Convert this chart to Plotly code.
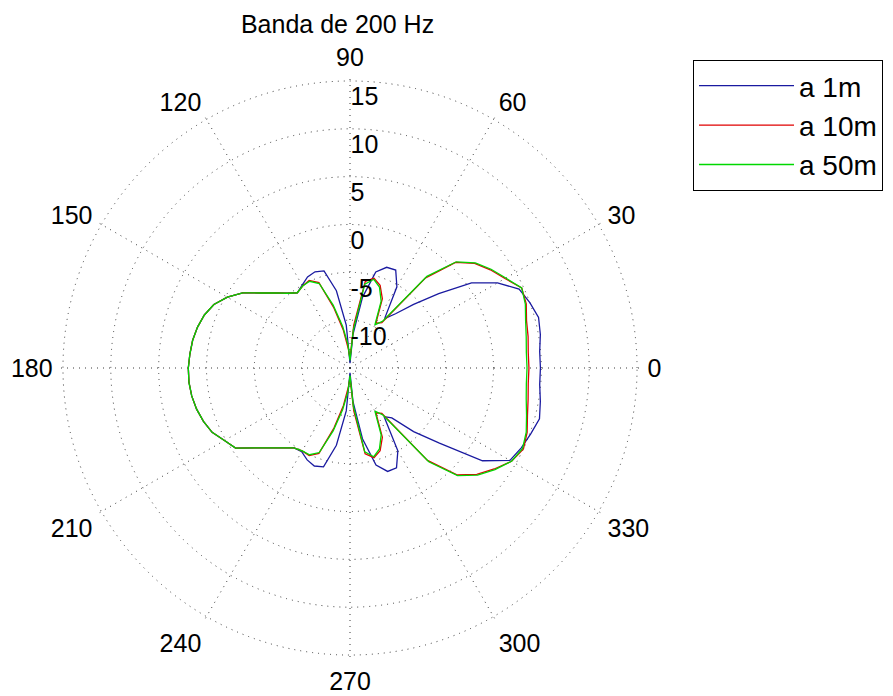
import plotly.graph_objects as go

# Angles (degrees) and levels (dB)
theta_deg = list(range(0, 361, 5))

level_1m = [4.9, 4.9, 5.2, 5.4, 5.0, 4.5, 2.8, 0.5, -2.9, -5.6, -7.6, -8.7,
            -5.2, -3.7, -3.8, -4.6, -7.5, -11.5, -14.5, -10.5, -6.8, -4.5, -4.3, -4.5,
            -5.0, -5.4, -4.8, -3.9, -2.8, -1.3, -0.2, 0.7, 1.2, 1.5, 1.7, 1.8,
            1.9, 1.9, 1.8, 1.6, 1.3, 0.9, 0.15, -0.4, -2.0, -3.2, -4.1, -4.8,
            -4.9, -4.4, -4.1, -4.3, -6.8, -10.5, -14.5, -11.5, -7.5, -4.5, -3.5, -3.5,
            -5.0, -8.8, -8.2, -5.6, -2.8, 1.9, 4.3, 4.75, 5.1, 5.5, 5.2, 4.9, 4.9]

level_10m = [3.7, 3.7, 3.9, 4.1, 4.6, 4.8, 3.7, 2.9, 2.0, 0.6, -2.7, -9.2,
             -9.6, -7.0, -5.8, -5.3, -5.8, -10.5, -14.0, -13.0, -11.0, -8.5, -5.5, -4.9,
             -5.1, -5.4, -4.8, -3.9, -2.8, -1.3, -0.2, 0.7, 1.2, 1.5, 1.7, 1.8,
             1.9, 1.9, 1.8, 1.6, 1.3, 0.9, 0.15, -0.4, -2.0, -3.2, -4.1, -4.8,
             -5.0, -4.9, -5.5, -8.5, -11.0, -13.0, -14.0, -10.5, -5.9, -5.3, -5.8, -7.0,
             -9.6, -9.2, -2.4, 0.8, 2.3, 3.4, 4.5, 5.0, 4.7, 4.2, 3.9, 3.7, 3.7]

level_50m = [3.5, 3.5, 3.7, 4.0, 4.5, 4.8, 3.8, 3.0, 2.1, 0.7, -2.5, -9.0,
             -9.8, -7.3, -6.0, -5.4, -6.1, -11.0, -14.2, -12.5, -10.6, -8.2, -5.6, -5.0,
             -5.1, -5.4, -4.8, -3.9, -2.8, -1.3, -0.2, 0.7, 1.2, 1.5, 1.7, 1.8,
             1.9, 1.9, 1.8, 1.6, 1.3, 0.9, 0.15, -0.4, -2.0, -3.2, -4.1, -4.8,
             -5.0, -5.0, -5.6, -8.2, -10.6, -12.5, -14.2, -11.0, -6.1, -5.4, -6.0, -7.3,
             -9.8, -9.0, -2.2, 0.9, 2.4, 3.5, 4.5, 4.9, 4.6, 4.1, 3.7, 3.5, 3.5]

series_names = ["a 1m", "a 10m", "a 50m"]
series_colors = ["#1a1aa0", "#e00000", "#00d800"]

radial_ticks = [-10, -5, 0, 5, 10, 15]
radial_labels = ["<br>-10", "<br>-5", "<br>0", "<br>5", "<br>10", "<br>15"]
angle_ticks = list(range(0, 360, 30))

FONT = "Liberation Sans, Arial, sans-serif"
GRID = "#3a3a3a"
DOTS = "1px,5px"

fig = go.Figure()
for name, color, vals in zip(series_names, series_colors, [level_1m, level_10m, level_50m]):
    fig.add_trace(go.Scatterpolar(r=vals, theta=theta_deg, mode="lines", name=name,
                                  line=dict(color=color, width=1.3)))

fig.update_layout(
    width=893, height=696,
    margin=dict(l=0, r=0, t=0, b=0),
    paper_bgcolor="white",
    font=dict(family=FONT, size=25, color="black"),
    title=dict(text="Banda de 200 Hz", x=0.378, y=0.965, xanchor="center", yanchor="middle",
               font=dict(family=FONT, size=25, color="black")),
    polar=dict(
        domain=dict(x=[0.0673, 0.7166], y=[0.0547, 0.8878]),
        bgcolor="white",
        radialaxis=dict(range=[-15, 15.3], tickvals=radial_ticks, ticktext=radial_labels,
                        angle=90, side="clockwise", tickangle=90,
                        showline=False, ticks="", gridcolor=GRID, griddash=DOTS, gridwidth=1,
                        tickfont=dict(family=FONT, size=25, color="black")),
        angularaxis=dict(direction="counterclockwise", rotation=0, tickvals=angle_ticks,
                         ticks="outside", ticklen=2, tickcolor="rgba(0,0,0,0)",
                         showline=False, gridcolor=GRID, griddash=DOTS, gridwidth=1,
                         tickfont=dict(family=FONT, size=25, color="black")),
    ),
    legend=dict(x=693 / 893, y=1 - 60 / 696, xanchor="left", yanchor="top",
                bordercolor="black", borderwidth=1, bgcolor="white",
                font=dict(family=FONT, size=28, color="black"), itemwidth=95),
    showlegend=True,
)

fig.write_html("out.html")
